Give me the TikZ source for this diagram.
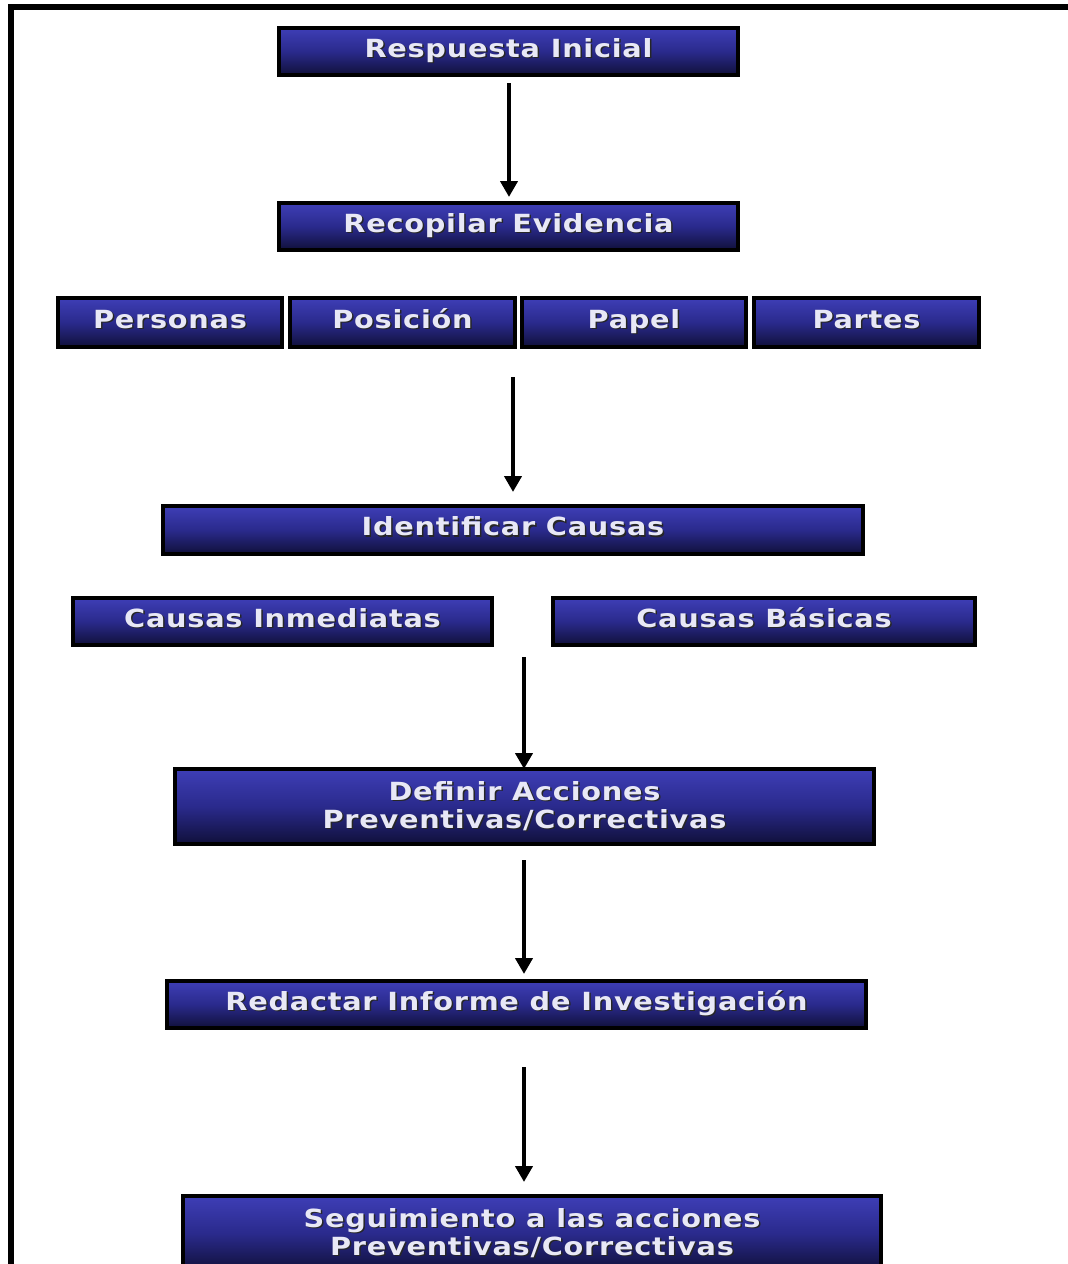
\documentclass[tikz,border=0pt]{standalone}
\usepackage{fontspec}
\setmainfont{DejaVu Sans}[FakeStretch=1.15,LetterSpace=3]
\usetikzlibrary{arrows.meta}
\usepackage{xcolor}
\definecolor{cajatop}{RGB}{62,62,182}
\definecolor{cajamid}{RGB}{42,42,140}
\definecolor{cajabot}{RGB}{16,16,58}
\definecolor{letra}{RGB}{232,232,246}
\newcommand\sombra[1]{\leavevmode\rlap{\kern1.5pt\raisebox{-1.5pt}{\textcolor{black!85}{#1}}}#1}

\tikzset{
  caja/.style={draw=black, line width=3.4pt, top color=cajatop, bottom color=cajabot, middle color=cajamid,
    text=letra, font=\fontsize{25}{28}\selectfont\bfseries, align=center, inner sep=0pt,
    text height=21pt, text depth=10pt, minimum height=47pt},
  doble/.style={text height=, text depth=, minimum height=75pt},
  flecha/.style={line width=4.2pt, -{Triangle[length=16pt,width=17pt]}}
}

\begin{document}
\begin{tikzpicture}[x=1pt,y=-1pt] %investigation flow
\useasboundingbox (0,0) rectangle (1068,1264);
\fill [white] (0,0) rectangle (1068,1264);

	%frame at the left and on top
\draw [line width=6.5pt] (11,1270) -- (11,7) -- (1070,7);

	%boxes
\node [caja, minimum width=459pt] (resp) at (508.5,51.5) {\sombra{Respuesta Inicial}};
\node [caja, minimum width=459pt] (recop) at (508.5,226.5) {\sombra{Recopilar Evidencia}};
\node [caja, minimum width=224pt, minimum height=49pt] (pers) at (170,322.5) {\sombra{Personas}};
\node [caja, minimum width=225pt, minimum height=49pt] (posi) at (402.5,322.5) {\sombra{Posición}};
\node [caja, minimum width=224pt, minimum height=49pt] (papel) at (634,322.5) {\sombra{Papel}};
\node [caja, minimum width=225pt, minimum height=49pt] (partes) at (866.5,322.5) {\sombra{Partes}};
\node [caja, minimum width=700pt, minimum height=48pt] (ident) at (513,530) {\sombra{Identificar Causas}};
\node [caja, minimum width=419pt] (inmed) at (282.5,621.5) {\sombra{Causas Inmediatas}};
\node [caja, minimum width=422pt] (basic) at (764,621.5) {\sombra{Causas Básicas}};
\node [caja, doble, minimum width=699pt] (defin) at (524.5,806.5) {\sombra{Definir Acciones}\\\sombra{Preventivas/Correctivas}};
\node [caja, minimum width=699pt] (redac) at (516.5,1004.5) {\sombra{Redactar Informe de Investigación}};
\node [caja, doble, minimum width=698pt] (segui) at (532,1233.5) {\sombra{Seguimiento a las acciones}\\\sombra{Preventivas/Correctivas}};

	%coordinates for the arrow ends
\coordinate (a1s) at (509,83);
\coordinate (a1e) at (509,197);
\coordinate (a2s) at (513,377);
\coordinate (a2e) at (513,492);
\coordinate (a3s) at (524,657);
\coordinate (a3e) at (524,769);
\coordinate (a4s) at (524,860);
\coordinate (a4e) at (524,974);
\coordinate (a5s) at (524,1067);
\coordinate (a5e) at (524,1182);

\draw [flecha] (a1s) -- (a1e);
\draw [flecha] (a2s) -- (a2e);
\draw [flecha] (a3s) -- (a3e);
\draw [flecha] (a4s) -- (a4e);
\draw [flecha] (a5s) -- (a5e);

\end{tikzpicture}
\end{document}
